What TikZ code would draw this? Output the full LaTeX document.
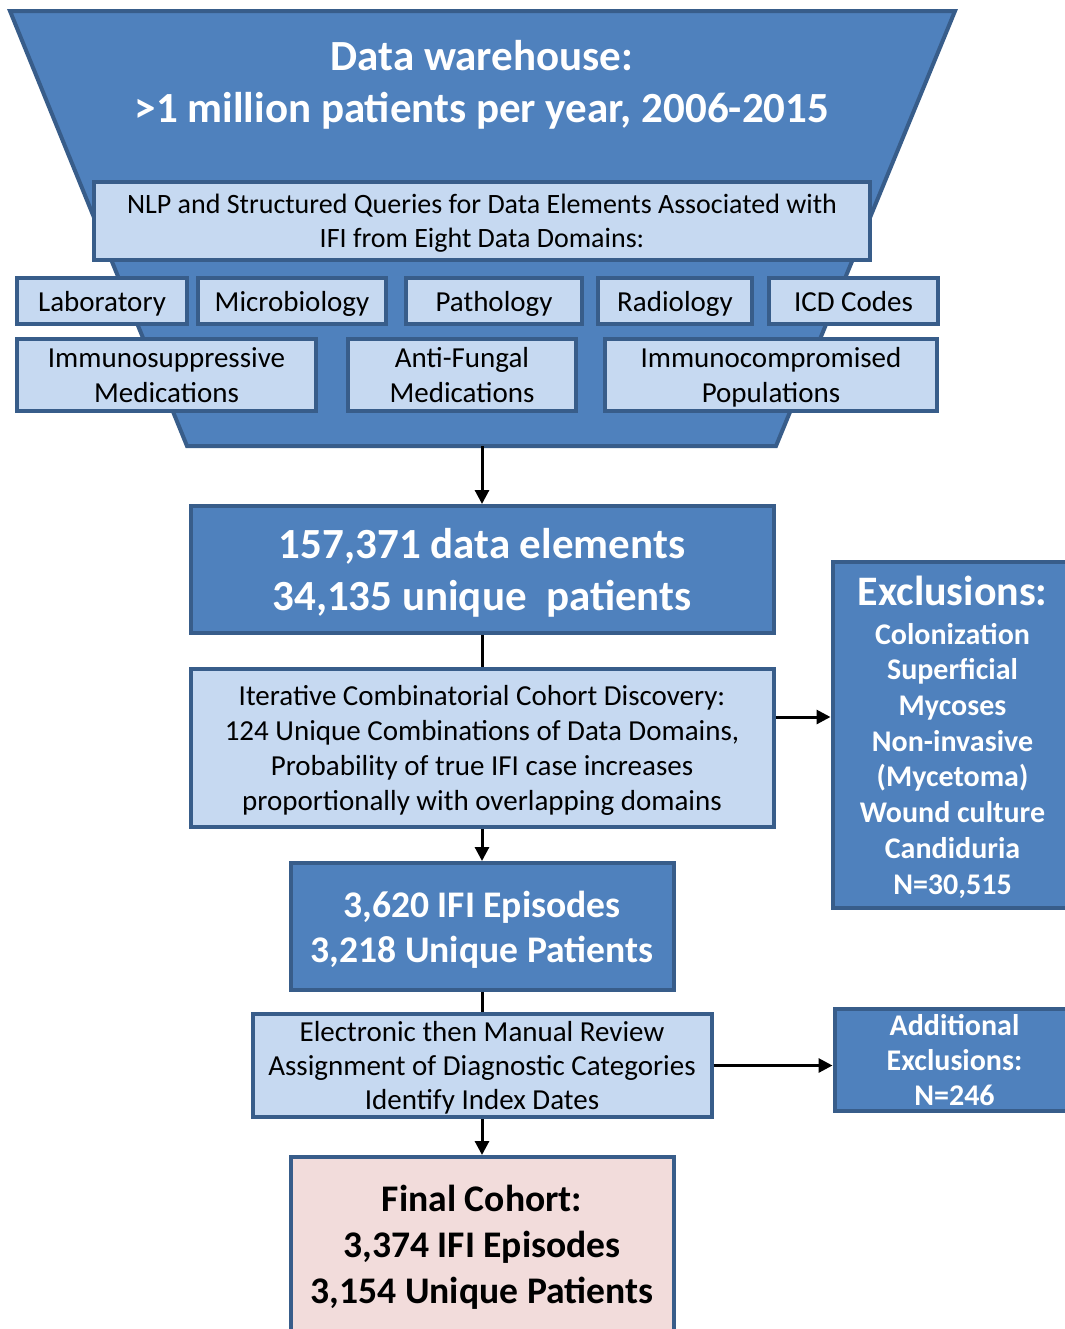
\documentclass[tikz,border=0pt]{standalone}
\usepackage{fontspec}
\setmainfont{Carlito}
\usetikzlibrary{positioning,arrows.meta}
\definecolor{dblue}{HTML}{4F81BD}
\definecolor{bline}{HTML}{385D8A}
\definecolor{lblue}{HTML}{C6D9F1}
\definecolor{lpink}{HTML}{F2DCDB}
\tikzstyle{dbox}=[rectangle, draw=bline, fill=dblue, line width=2pt, text=white
, inner sep=2pt, text depth=0pt, align=center, font=\bfseries]
\tikzstyle{lbox}=[rectangle, draw=bline, fill=lblue, line width=2pt, text=black
, inner sep=2pt, text depth=0pt, align=center, font=\fontsize{14.5}{17.5}\selectfont]
\tikzstyle{pline}=[-{Triangle[length=7pt,width=7pt]}, line width=1.5pt, black]
\tikzstyle{sline}=[line width=1.5pt, black]

\begin{document}
\begin{tikzpicture}[x=0.5pt, y=-0.5pt]
    \useasboundingbox (0,0) rectangle (1065,1329);
    \clip (0,0) rectangle (1065,1329);

% Funnel
    \draw[line width=2pt, draw=bline, fill=dblue] (10,11) -- (955,11) -- (776,446) -- (187,446) -- cycle;
    \coordinate (fb) at (482,446);

    \node (dw) at (482,81) [text=white, align=center, text depth=0pt, font=\fontsize{21.5}{26}\selectfont\bfseries]
	{Data warehouse:\\>1 million patients per year, 2006-2015};

    \node (nlp) at (482,221) [lbox, minimum width=388pt, minimum height=39pt, font=\fontsize{14}{17}\selectfont]
	{NLP and Structured Queries for Data Elements Associated with\\IFI from Eight Data Domains:};

    \node (lab) at (102,301) [lbox, minimum width=85pt, minimum height=23pt] {Laboratory};
    \node (mic) [lbox, minimum width=94pt, minimum height=23pt, right=3.5pt of lab] {Microbiology};
    \node (pat) [lbox, minimum width=88pt, minimum height=23pt, right=8pt of mic] {Pathology};
    \node (rad) [lbox, minimum width=77pt, minimum height=23pt, right=6pt of pat] {Radiology};
    \node (icd) [lbox, minimum width=84.5pt, minimum height=23pt, right=6.5pt of rad] {ICD Codes};

    \node (ims) [lbox, minimum width=149.5pt, minimum height=36pt, below=5.5pt of lab.south west, anchor=north west]
	{Immunosuppressive\\Medications};
    \node (afm) [lbox, minimum width=114pt, minimum height=36pt, right=14pt of ims] {Anti-Fungal\\Medications};
    \node (icp) [lbox, minimum width=166pt, minimum height=36pt, right=12.5pt of afm] {Immunocompromised\\Populations};

% Cohort steps

    \node (data) [dbox, minimum width=291.5pt, minimum height=63.5pt, below=29pt of fb, font=\fontsize{21.5}{26}\selectfont\bfseries]
	{157,371 data elements\\34,135 unique\ \ patients};
    \node (iter) [lbox, minimum width=291.5pt, minimum height=79pt, below=16pt of data]
	{Iterative Combinatorial Cohort Discovery:\\124 Unique Combinations of Data Domains,\\Probability of true IFI case increases\\proportionally with overlapping domains};
    \node (ifi) [dbox, minimum width=191.5pt, minimum height=63.5pt, below=16pt of iter, font=\fontsize{18.8}{22.5}\selectfont\bfseries]
	{3,620 IFI Episodes\\3,218 Unique Patients};
    \node (elec) [lbox, minimum width=229.5pt, minimum height=51.5pt, below=10pt of ifi, font=\fontsize{14.5}{17}\selectfont]
	{Electronic then Manual Review\\Assignment of Diagnostic Categories\\Identify Index Dates};
    \node (fin) [dbox, fill=lpink, text=black, minimum width=191.5pt, minimum height=87pt, below=18pt of elec, font=\fontsize{18.8}{23}\selectfont\bfseries]
	{Final Cohort:\\3,374 IFI Episodes\\3,154 Unique Patients};

% Exclusions

    \node (excl) [dbox, minimum width=120pt, minimum height=173pt, right=27.5pt of iter, yshift=6.5pt, font=\fontsize{15}{17.85}\selectfont\bfseries]
	{{\fontsize{21}{21}\selectfont Exclusions:}\\[1.5pt]Colonization\\Superficial\\Mycoses\\Non-invasive\\(Mycetoma)\\Wound culture\\Candiduria\\N=30,515};
    \node (addx) [dbox, minimum width=120pt, minimum height=51pt, right=59.5pt of elec, yshift=2.75pt, font=\fontsize{15}{17.5}\selectfont\bfseries]
	{Additional\\Exclusions:\\N=246};

% lines
   \draw[pline] (fb) -- (data.north);
   \draw[sline] (data.south) -- (iter.north);
   \draw[pline] (iter.south) -- (ifi.north);
   \draw[sline] (ifi.south) -- (elec.north);
   \draw[pline] (elec.south) -- (fin.north);

   \coordinate (ea) at ([yshift=15.5pt]iter.east);
   \draw[pline] (ea) -- (ea -| excl.west);
   \draw[pline] (elec.east) -- (elec.east -| addx.west);
\end{tikzpicture}
\end{document}
